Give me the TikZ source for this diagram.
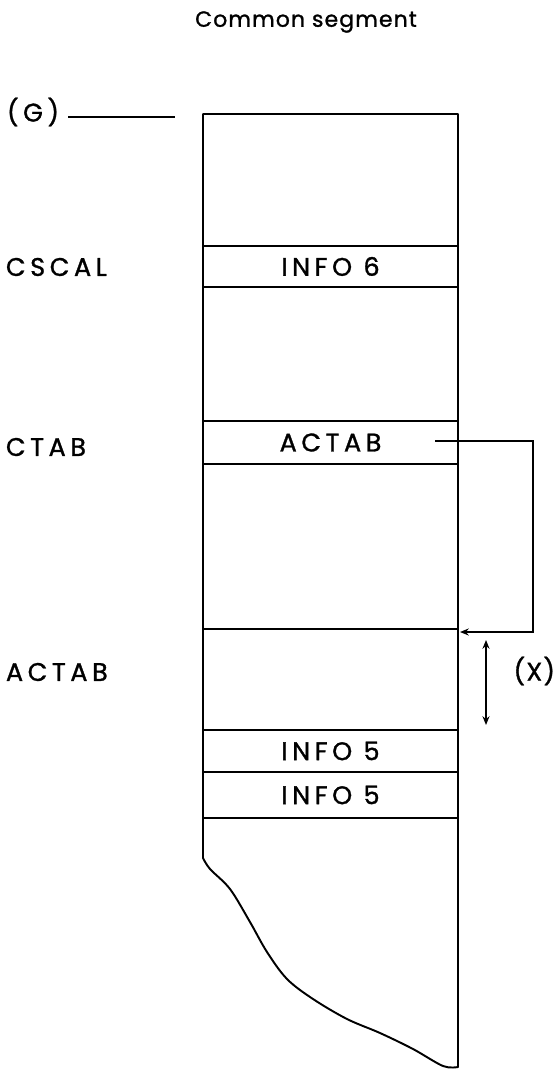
\documentclass[tikz,border=0pt]{standalone}
\usepackage{fontspec}
\setmainfont[LetterSpace=18,FakeBold=1.2]{Poppins}
\newfontfamily\titlefont[LetterSpace=5,FakeBold=1.2]{Poppins}
\usetikzlibrary{arrows.meta,positioning}

\begin{document}
\begin{tikzpicture}[x=0.02cm, y=-0.02cm, line width=1.1pt]
  % styles
  \tikzstyle{cell} = [rectangle, draw, minimum width=5.1cm, minimum height=0.82cm, inner sep=0pt, font=\fontsize{14.5}{17}\selectfont]
  \tikzstyle{lbl} = [anchor=west, inner sep=0pt, font=\fontsize{14.5}{17}\selectfont]
  \tikzstyle{pointer} = [-{Stealth[length=5pt,width=4pt]}]
  \useasboundingbox (0,0) rectangle (559,1071);

  % Title
  \node[font=\titlefont\fontsize{12.5}{15}\selectfont] (title) at (306,22) {Common segment};

  % Column outline
  \draw[line join=round] plot[smooth, tension=0.55] coordinates {(203,858) (210,869) (230,889) (250,922) (267,952) (287,979) (313,999) (347,1019) (380,1033) (413,1049) (443,1066) (458,1067)}
    -- (458,114) -- (203,114) -- cycle;

  % Fields
  \node[cell] (info6) at (330.5,266.5) {INFO 6};
  \node[cell, minimum height=0.86cm] (actab) at (330.5,442.5) {ACTAB};
  \node[cell, minimum height=0.84cm] (info5a) at (330.5,751) {INFO 5};
  \node[cell, minimum height=0.92cm] (info5b) at (330.5,795) {INFO 5};
  \draw (203,629) coordinate (astart) -- (458,629) coordinate (aend);

  % Left labels
  \node[lbl] (g) at (6,112) {(G)};
  \node[lbl] (cscal) at (5,267) {CSCAL};
  \node[lbl] (ctab) at (5,447) {CTAB};
  \node[lbl] (actablbl) at (5,672) {ACTAB};
  \coordinate (gl) at (68,117);
  \coordinate (gr) at (175,117);
  \draw (gl) -- (gr);

  % Pointer from ACTAB field to ACTAB area
  \coordinate (ptr) at (435,441);
  \coordinate (tgt) at (460,632);
  \draw[pointer] (ptr) -- (533,441) -- (533,632) -- (tgt);

  % Extent (X)
  \coordinate (xtop) at (486,640);
  \coordinate (xbot) at (486,725);
  \draw[{Stealth[length=5pt,width=4pt]}-{Stealth[length=5pt,width=4pt]}, line width=0.9pt] (xtop) -- (xbot);
  \node[font=\titlefont\fontsize{14.5}{17}\selectfont, inner sep=0pt, anchor=east] (x) at (556,671) {(X)};
\end{tikzpicture}
\end{document}
